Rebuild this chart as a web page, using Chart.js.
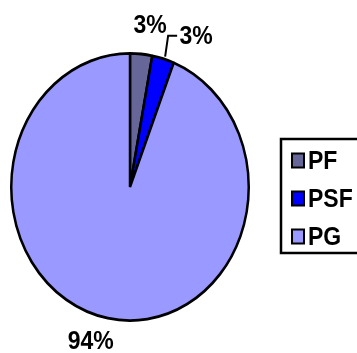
<!DOCTYPE html>
<html>
<head>
<meta charset="utf-8">
<script src="https://cdn.jsdelivr.net/npm/chart.js@4/dist/chart.umd.min.js"></script>
<style>
  html, body { margin: 0; padding: 0; background: #fff; }
  #wrap { width: 357px; height: 353px; }
</style>
</head>
<body>
<div id="wrap"><canvas id="pie"></canvas></div>
<script>
/* data */
const categories = ['PF', 'PSF', 'PG'];
const shares     = [3, 3, 94];
const colors     = ['#666699', '#0000FF', '#9999FF'];

/* vertical stretch of the pie (ellipse) and of the text */
const SY = 1.125;
const FONT = "bold 23px Arial, 'Liberation Sans', sans-serif";

// label placement: offset from the slice's mid point on the rim
const labelOffsets = [[9, -28], [33, -22], [-17, 24]];

function stretchedText(ctx, txt, x, y, align) {
  ctx.save();
  ctx.translate(x, y);
  ctx.scale(1, SY);
  ctx.textAlign = align || 'center';
  ctx.textBaseline = 'middle';
  ctx.fillText(txt, 0, 0);
  ctx.restore();
}

const ellipsePlugin = {
  id: 'ellipse',
  beforeDatasetsDraw(chart) {
    const arc = chart.getDatasetMeta(0).data[0];
    const ctx = chart.ctx;
    ctx.save();
    ctx.translate(arc.x, arc.y);
    ctx.scale(1, SY);
    ctx.translate(-arc.x, -arc.y);
  },
  afterDatasetsDraw(chart) {
    chart.ctx.restore();
  }
};

const labelPlugin = {
  id: 'labels',
  afterDraw(chart) {
    const ctx = chart.ctx;
    const arcs = chart.getDatasetMeta(0).data;
    const total = shares.reduce((a, b) => a + b, 0);
    ctx.save();
    ctx.fillStyle = '#000';
    ctx.font = FONT;
    arcs.forEach((arc, i) => {
      const mid = (arc.startAngle + arc.endAngle) / 2;
      const ex = arc.x + arc.outerRadius * Math.cos(mid);
      const ey = arc.y + arc.outerRadius * SY * Math.sin(mid);
      const lx = ex + labelOffsets[i][0];
      const ly = ey + labelOffsets[i][1];
      const txt = Math.round(shares[i] / total * 100) + '%';
      stretchedText(ctx, txt, lx, ly);
      if (i === 1) {
        // leader line for the small slice
        ctx.strokeStyle = '#000';
        ctx.lineWidth = 2;
        ctx.beginPath();
        ctx.moveTo(ex + 2, ey - 2);
        ctx.lineTo(ex + 5, ly - 1);
        ctx.lineTo(ex + 14, ly - 1);
        ctx.stroke();
      }
    });

    // legend box
    ctx.strokeStyle = '#000';
    ctx.lineWidth = 2.5;
    ctx.strokeRect(281, 139, 90, 114);
    categories.forEach((c, i) => {
      const y = 160.5 + i * 38;
      ctx.fillStyle = colors[i];
      ctx.fillRect(292, y - 7, 12, 14);
      ctx.lineWidth = 2;
      ctx.strokeRect(292, y - 7, 12, 14);
      ctx.fillStyle = '#000';
      stretchedText(ctx, c, 308, y + 1, 'left');
    });
    ctx.restore();
  }
};

new Chart(document.getElementById('pie'), {
  type: 'pie',
  data: {
    labels: categories,
    datasets: [{
      data: shares,
      backgroundColor: colors,
      borderColor: '#000',
      borderWidth: 2.5,
      hoverOffset: 0,
      clip: false
    }]
  },
  options: {
    responsive: true,
    maintainAspectRatio: false,
    animation: false,
    layout: { padding: { left: 10, right: 107, top: 67, bottom: 46 } },
    plugins: {
      legend: { display: false },
      tooltip: { enabled: false }
    }
  },
  plugins: [ellipsePlugin, labelPlugin]
});
</script>
</body>
</html>
